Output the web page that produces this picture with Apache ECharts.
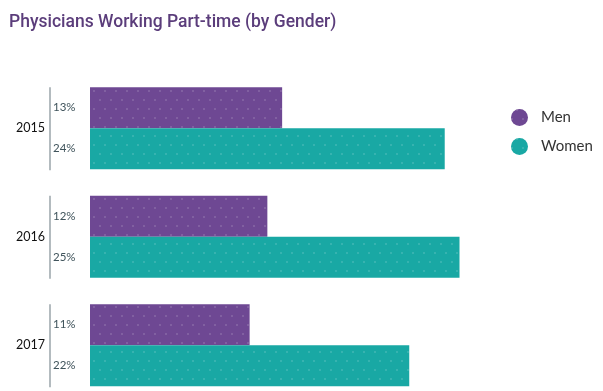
<!DOCTYPE html>
<html><head><meta charset="utf-8">
<script src="https://cdn.jsdelivr.net/npm/echarts@6/dist/echarts.min.js"></script>
<style>html,body{margin:0;padding:0;background:#fff}#c{width:603px;height:391px}</style>
</head><body><div id="c"></div>
<script>
const years = ['2015', '2016', '2017'];
const men = [13, 12, 10.8];
const women = [24, 25, 21.6];
const seriesNames = ['Men', 'Women'];
const title = 'Physicians Working Part-time (by Gender)';

const purple = '#6e4893';
const teal = '#19a8a4';
const decal = {symbol: 'circle', symbolSize: 1, dashArrayX: [[2, 9], [0, 5, 2, 4]], dashArrayY: [2, 7], color: 'rgba(255,255,255,0.18)'};
const pctLabel = {
  show: true, position: [-37, '50%'], align: 'left', verticalAlign: 'middle',
  fontFamily: 'Lato', fontSize: 11.5, color: '#3f535b',
  formatter: p => Math.round(p.value) + '%'
};

const chart = echarts.init(document.getElementById('c'), null, {renderer: 'canvas'});
chart.setOption({
  backgroundColor: '#fff',
  animation: false,
  title: {text: title, left: 4, top: 9, textStyle: {fontFamily: 'Roboto', fontWeight: 500, fontSize: 17.5, color: '#5b3d7b'}},
  legend: {orient: 'vertical', left: 506, top: 104, icon: 'circle', itemWidth: 17, itemHeight: 17, itemGap: 12,
    textStyle: {fontFamily: 'Lato', fontSize: 15, color: '#333', padding: [0, 0, 0, 8]}, data: seriesNames},
  grid: {left: 90, top: 74, width: 443.4, height: 325.5, outerBoundsMode: 'none', containLabel: false},
  xAxis: {type: 'value', min: 0, max: 30, show: false},
  yAxis: {type: 'category', data: years, inverse: true,
    axisLine: {show: false}, axisTick: {show: false},
    axisLabel: {margin: 45, fontFamily: 'Lato', fontSize: 12.5, color: '#111'}},
  series: [
    {name: seriesNames[0], type: 'bar', data: men, barWidth: 41, barGap: '0%',
     itemStyle: {color: purple, decal: decal}, label: pctLabel},
    {name: seriesNames[1], type: 'bar', data: women, barWidth: 41, barGap: '0%',
     itemStyle: {color: teal, decal: decal}, label: pctLabel},
    {type: 'custom', silent: true, data: years.map((y, i) => [0, i]), encode: {x: 0, y: 1},
     renderItem: (params, api) => {
       const p = api.coord([0, api.value(1)]);
       return {type: 'line', shape: {x1: p[0] - 40, y1: p[1] - 41, x2: p[0] - 40, y2: p[1] + 42},
         style: {stroke: '#b3bbbf', lineWidth: 2}};
     }}
  ]
});
</script></body></html>
